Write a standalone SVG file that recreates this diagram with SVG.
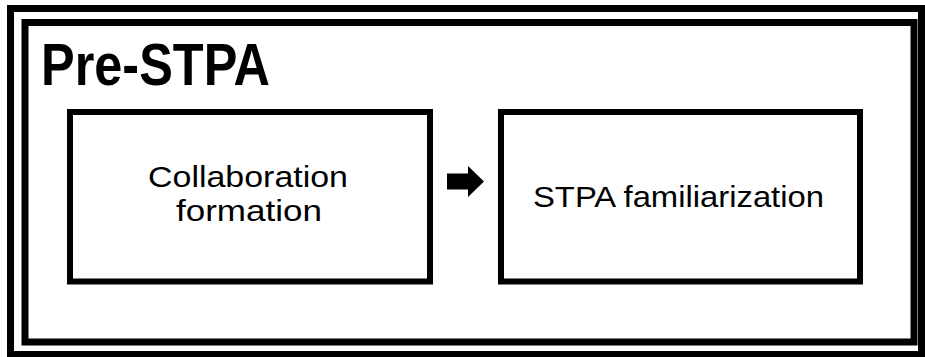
<svg xmlns="http://www.w3.org/2000/svg" width="925" height="357" viewBox="0 0 925 357">
<style>
.frame{fill:none;stroke:#000;stroke-width:7}
.box{fill:#fff;stroke:#000;stroke-width:6}
.lbl{font-family:"Liberation Sans",Arial,sans-serif;font-size:29px;fill:#000;text-anchor:middle}
.title{font-family:"Liberation Sans",Arial,sans-serif;font-size:60px;font-weight:bold;fill:#000}
</style>
<rect width="925" height="357" fill="#fff"/>
<g id="frame">
<rect class="frame" x="10.5" y="8.5" width="911" height="346"/>
<rect class="frame" x="25" y="22.5" width="889" height="319.5"/>
<text class="title" x="41" y="85" textLength="229" lengthAdjust="spacingAndGlyphs">Pre-STPA</text>
</g>
<g id="node-collab">
<rect class="box" x="70" y="112" width="360" height="169.5"/>
<text class="lbl" x="248" y="187" textLength="200" lengthAdjust="spacingAndGlyphs">Collaboration</text>
<text class="lbl" x="249" y="221" textLength="146" lengthAdjust="spacingAndGlyphs">formation</text>
</g>
<g id="node-stpa">
<rect class="box" x="501" y="112" width="359" height="169.5"/>
<text class="lbl" x="678.5" y="207" textLength="291" lengthAdjust="spacingAndGlyphs">STPA familiarization</text>
</g>
<g id="connectors">
<polygon points="447,173.5 468,173.5 468,166 484,181.5 468,197 468,189.5 447,189.5" fill="#000"/>
</g>
</svg>
